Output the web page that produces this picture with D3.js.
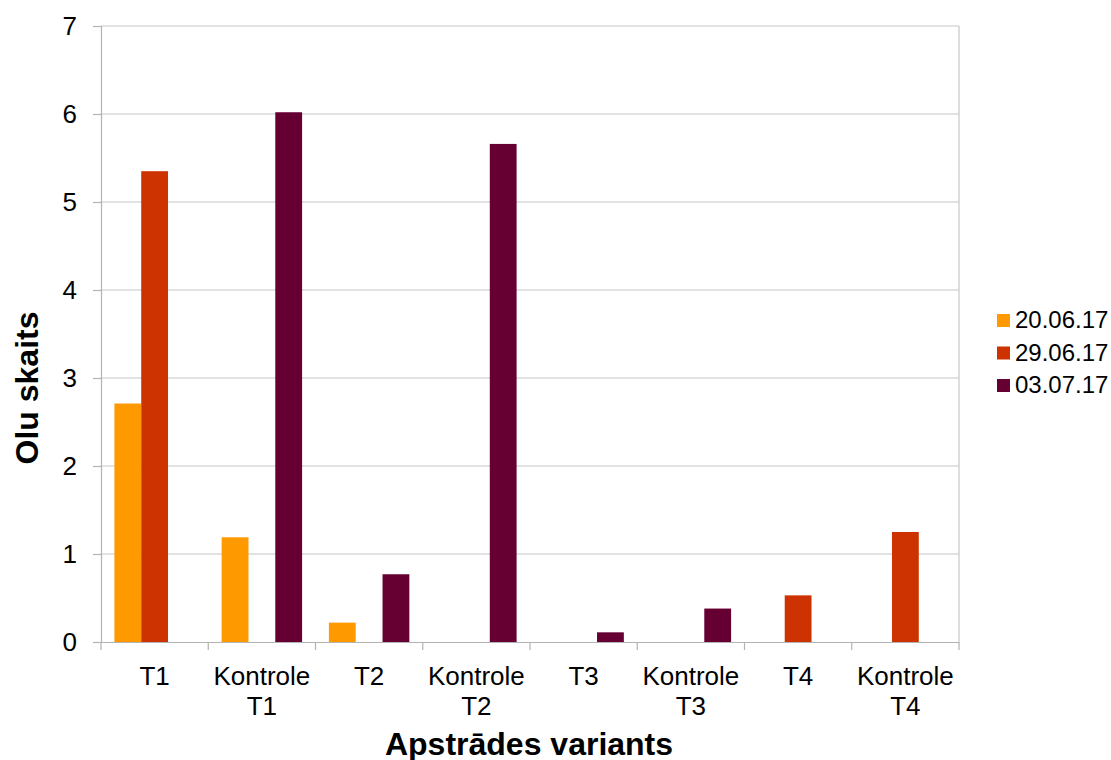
<!DOCTYPE html>
<html>
<head>
<meta charset="utf-8">
<script src="https://cdn.jsdelivr.net/npm/d3@7"></script>
<style>
body { margin: 0; background: #fff; }
text { font-family: "Liberation Sans", Arial, sans-serif; }
</style>
</head>
<body>
<div id="chart"></div>
<script>
var categories = ["T1", "Kontrole T1", "T2", "Kontrole T2", "T3", "Kontrole T3", "T4", "Kontrole T4"];
var seriesNames = ["20.06.17", "29.06.17", "03.07.17"];
var colors = ["#FF9900", "#CC3300", "#660033"];
var s200617 = [2.71, 1.19, 0.22, 0, 0, 0, 0, 0];
var s290617 = [5.35, 0, 0, 0, 0, 0, 0.53, 1.25];
var s030717 = [0, 6.02, 0.77, 5.66, 0.11, 0.38, 0, 0];
var yTicks = [0, 1, 2, 3, 4, 5, 6, 7];

var series = [s200617, s290617, s030717];

var W = 1111, H = 760;
var m = {left: 101, right: 152, top: 26, bottom: 118};
var pw = W - m.left - m.right, ph = H - m.top - m.bottom;

var svg = d3.select("#chart").append("svg").attr("width", W).attr("height", H);
var g = svg.append("g").attr("transform", "translate(" + m.left + "," + m.top + ")");

var x = d3.scaleBand().domain(categories).range([0, pw]).padding(0);
// three bars fill the middle 3/4 of each category
var x1 = d3.scaleBand().domain(d3.range(3)).range([x.bandwidth() / 8, x.bandwidth() * 7 / 8]).padding(0);
var y = d3.scaleLinear().domain([0, 7]).range([ph, 0]);

// gridlines
g.selectAll(".grid").data(yTicks.slice(1)).enter().append("line")
  .attr("x1", 0).attr("x2", pw)
  .attr("y1", d => y(d)).attr("y2", d => y(d))
  .attr("stroke", "#c6c6c6").attr("stroke-width", 1.2);
// right border
g.append("line").attr("x1", pw).attr("x2", pw).attr("y1", 0).attr("y2", ph)
  .attr("stroke", "#c6c6c6").attr("stroke-width", 1.2);

// bars
series.forEach(function(s, i) {
  g.selectAll(".bar" + i).data(s).enter().append("rect")
    .attr("x", (d, j) => x(categories[j]) + x1(i))
    .attr("width", x1.bandwidth())
    .attr("y", d => y(d))
    .attr("height", d => ph - y(d))
    .attr("fill", colors[i]);
});

// y axis
var yAxis = g.append("g").call(d3.axisLeft(y).tickValues(yTicks).tickFormat(d3.format("d")).tickSize(8).tickPadding(16));
yAxis.select(".domain").attr("stroke", "#b3b3b3").attr("stroke-width", 1.2);
yAxis.selectAll(".tick line").attr("stroke", "#b3b3b3").attr("stroke-width", 1.2);
yAxis.selectAll(".tick text").attr("font-size", "26px").attr("fill", "#000")
  .style("font-family", "Liberation Sans, Arial, sans-serif");

// x axis
var xAxis = g.append("g").attr("transform", "translate(0," + ph + ")")
  .call(d3.axisBottom(x).tickSize(0).tickFormat(""));
xAxis.select(".domain").attr("stroke", "#b3b3b3").attr("stroke-width", 1.2);
var bounds = categories.map(c => x(c)).concat([pw]);
xAxis.selectAll(".sep").data(bounds).enter().append("line")
  .attr("x1", d => d).attr("x2", d => d).attr("y1", 0).attr("y2", 8)
  .attr("stroke", "#b3b3b3").attr("stroke-width", 1.2);
categories.forEach(function(c) {
  var parts = c.split(" ");
  var t = xAxis.append("text")
    .attr("x", x(c) + x.bandwidth() / 2)
    .attr("y", 43)
    .attr("text-anchor", "middle")
    .attr("font-size", "26px").attr("fill", "#000");
  parts.forEach(function(p, k) {
    t.append("tspan").attr("x", x(c) + x.bandwidth() / 2).attr("dy", k === 0 ? 0 : 30).text(p);
  });
});

// axis titles
svg.append("text").attr("x", m.left + pw / 2 - 1).attr("y", 755)
  .attr("text-anchor", "middle").attr("font-size", "32px").attr("font-weight", "bold")
  .text("Apstrādes variants");
svg.append("text").attr("transform", "translate(38,388) rotate(-90)")
  .attr("text-anchor", "middle").attr("font-size", "32px").attr("font-weight", "bold")
  .text("Olu skaits");

// legend
var leg = svg.append("g").attr("transform", "translate(997,314)");
seriesNames.forEach(function(n, i) {
  leg.append("rect").attr("x", 0).attr("y", i * 32.5).attr("width", 13).attr("height", 13).attr("fill", colors[i]);
  leg.append("text").attr("x", 18).attr("y", i * 32.5 + 14).attr("font-size", "24px").text(n);
});
</script>
</body>
</html>
